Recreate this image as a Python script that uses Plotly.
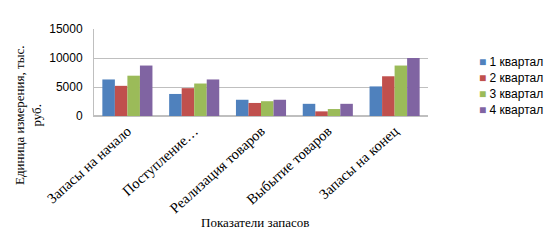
import plotly.graph_objects as go

categories = ["Запасы на начало", "Поступление…", "Реализация товаров", "Выбытие товаров", "Запасы на конец"]
series_names = ["1 квартал", "2 квартал", "3 квартал", "4 квартал"]
q1 = [6300, 3800, 2800, 2100, 5100]
q2 = [5200, 4800, 2250, 800, 6850]
q3 = [6950, 5600, 2550, 1200, 8700]
q4 = [8700, 6300, 2800, 2100, 10000]
y_ticks = [0, 5000, 10000, 15000]
y_tick_labels = ["0", "5000", "10000", "15000"]

colors = ["#4F81BD", "#C0504D", "#9BBB59", "#8064A2"]
values = [q1, q2, q3, q4]

fig = go.Figure()
for name, vals, col in zip(series_names, values, colors):
    fig.add_trace(go.Bar(
        x=categories, y=vals, name=name, showlegend=False,
        marker=dict(color=col, line=dict(width=0)),
    ))

serif = "Liberation Serif, Times New Roman, serif"
sans = "Liberation Sans, Arial, sans-serif"

annotations = [
    dict(text="Единица измерения, тыс.<br>руб.", textangle=-90,
         xref="paper", yref="paper", x=0, y=0.092, xshift=-66, yshift=-8,
         xanchor="center", yanchor="middle", showarrow=False,
         font=dict(family=serif, size=13, color="#000000")),
    dict(text="Показатели запасов",
         xref="paper", yref="paper", x=0.482, y=0, yshift=-106,
         xanchor="center", yanchor="middle", showarrow=False,
         font=dict(family=serif, size=13, color="#000000")),
]
# legend built as annotations (compact Excel-style spacing)
for i, (name, col) in enumerate(zip(series_names, colors)):
    annotations.append(dict(
        text=f"<span style='color:{col}'>■</span> {name}",
        xref="paper", yref="paper", x=1.146, y=(116 - 62 - 16 * i) / 87,
        xanchor="left", yanchor="middle", showarrow=False,
        font=dict(family=sans, size=12, color="#000000"),
    ))

fig.update_layout(
    width=555, height=241,
    margin=dict(l=86, r=135, t=21, b=133, autoexpand=False),
    paper_bgcolor="white", plot_bgcolor="white",
    barmode="group", bargap=0.25, bargroupgap=0.0,
    showlegend=False,
    xaxis=dict(
        tickangle=-42, tickfont=dict(family=serif, size=14.5, color="#000000"),
        showline=True, linecolor="#BFBFBF", linewidth=1,
        ticks="", showgrid=False, automargin=False,
    ),
    yaxis=dict(
        range=[0, 15000], tickvals=y_ticks, ticktext=y_tick_labels,
        tickfont=dict(family=sans, size=12, color="#000000"),
        showgrid=True, gridcolor="#BFBFBF", gridwidth=1,
        zeroline=True, zerolinecolor="#BFBFBF",
        showline=True, linecolor="#BFBFBF",
        ticklabelstandoff=8, automargin=False,
    ),
    annotations=annotations,
)

fig.write_html("out.html")
